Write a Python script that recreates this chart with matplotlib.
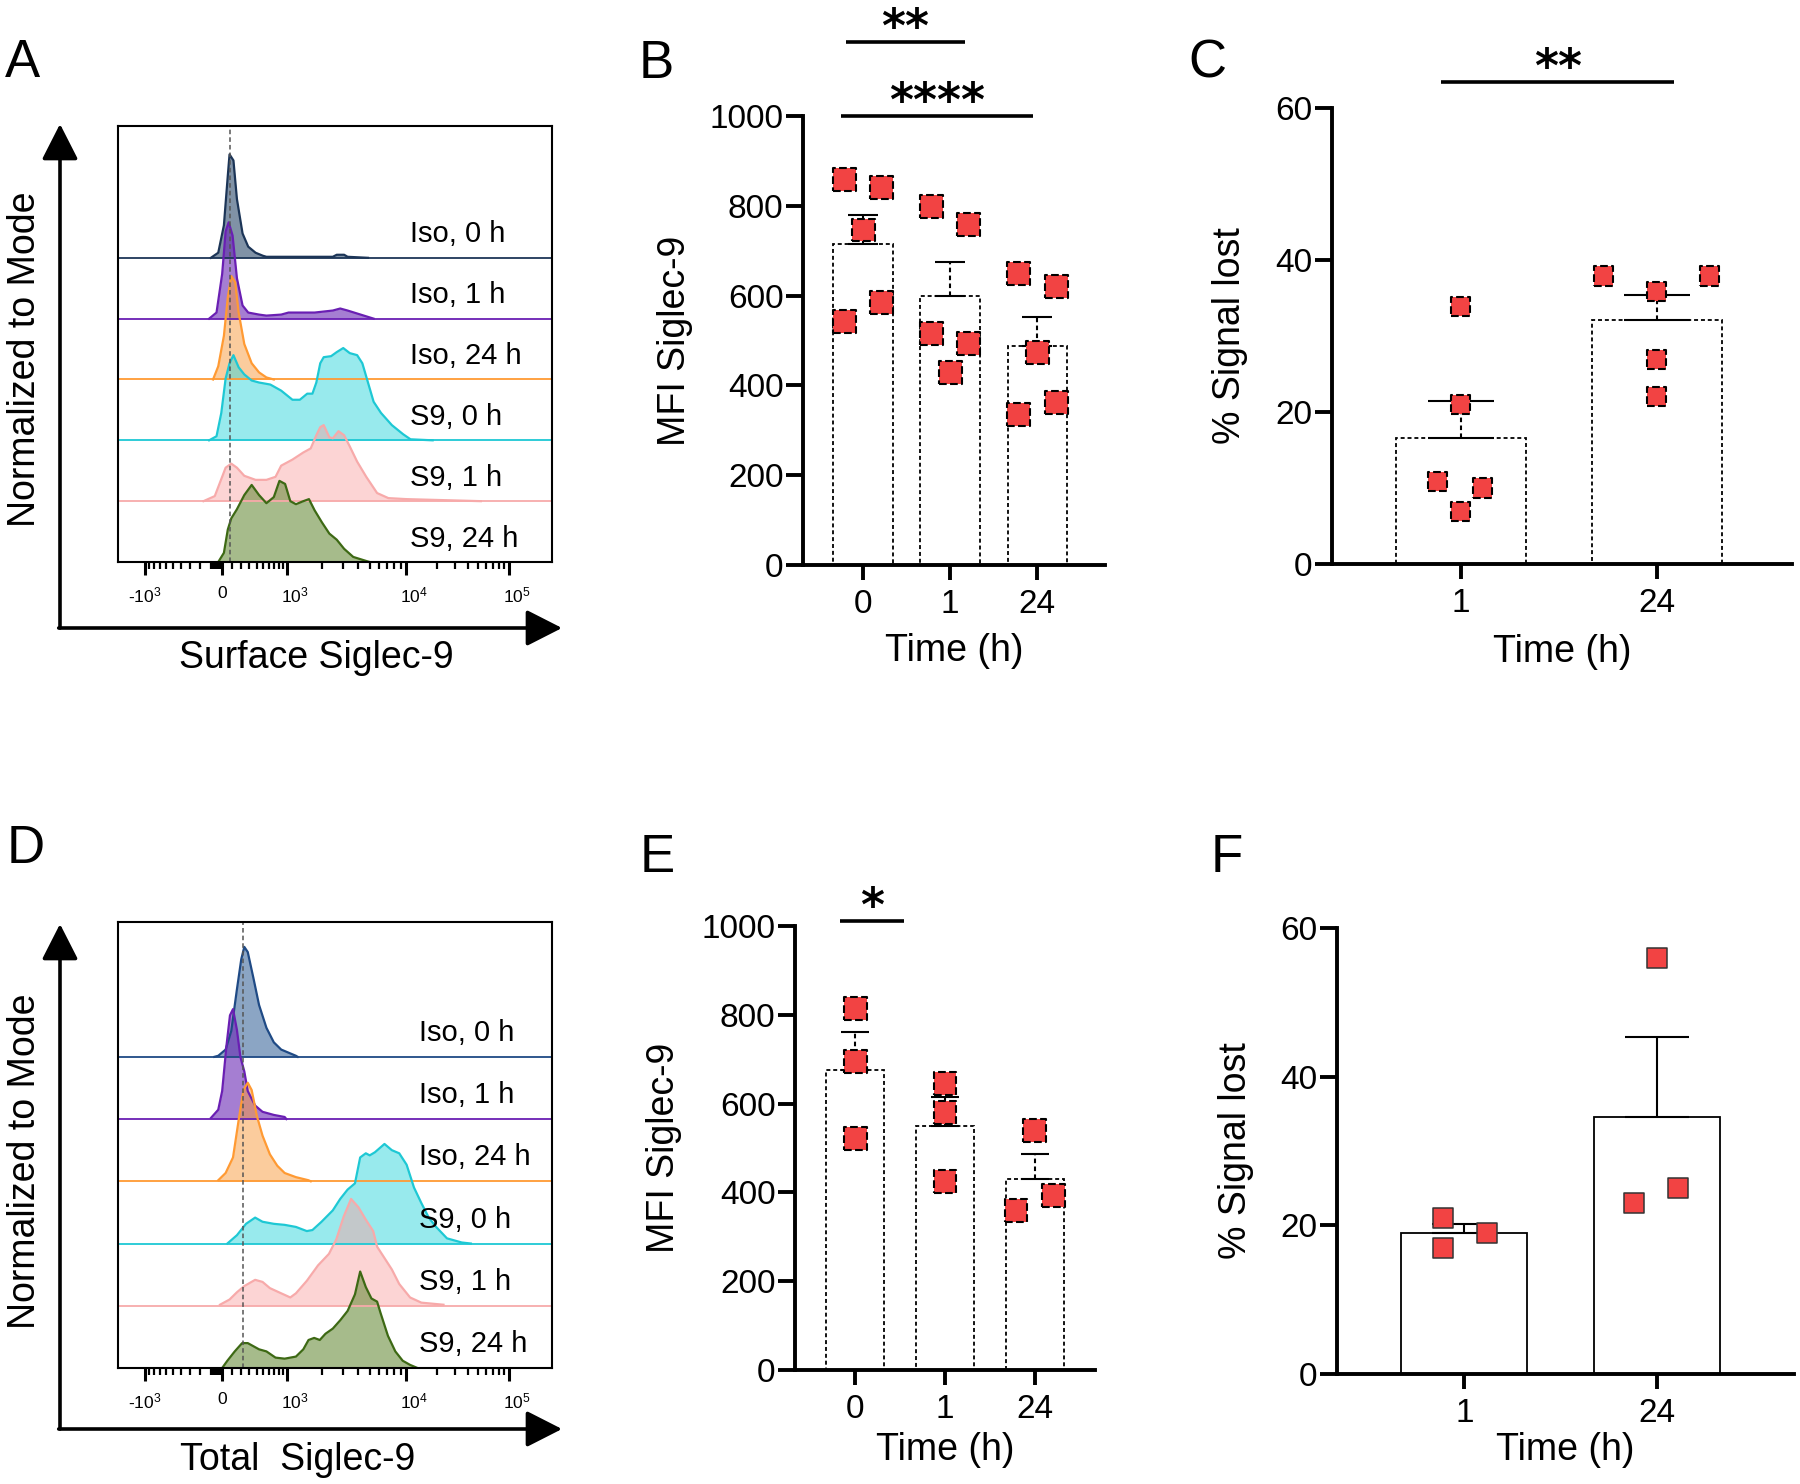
import numpy as np
import matplotlib.pyplot as plt
from matplotlib.transforms import ScaledTranslation

plt.rcParams['font.family'] = ['Liberation Sans', 'DejaVu Sans']
plt.rcParams['mathtext.fontset'] = 'custom'
plt.rcParams['mathtext.rm'] = 'Liberation Sans'
plt.rcParams['mathtext.default'] = 'regular'

W, H = 1800, 1484

# ---------------- flow histograms (x: display channel 0-1000, y: % of mode) -------------
row_names = ['Iso, 0 h', 'Iso, 1 h', 'Iso, 24 h', 'S9, 0 h', 'S9, 1 h', 'S9, 24 h']

# panel A, surface Siglec-9
a_iso0_ch = [214, 231, 244, 253, 257, 266, 274, 287, 300, 317, 334, 342, 495, 504, 521, 529, 576]
a_iso0_h = [0, 5, 32, 81, 102, 96, 58, 24, 11, 5, 2, 1, 1, 3, 3, 1, 0]
a_iso1_ch = [210, 227, 240, 248, 255, 264, 274, 287, 300, 325, 342, 376, 393, 453, 495, 512, 529, 559, 589]
a_iso1_h = [0, 6, 44, 86, 95, 82, 40, 13, 6, 4, 3, 4, 6, 6, 8, 10, 8, 4, 0]
a_iso24_ch = [219, 231, 244, 253, 261, 270, 278, 291, 308, 325, 342, 359]
a_iso24_h = [0, 13, 43, 81, 102, 96, 66, 35, 16, 7, 2, 0]
a_s90_ch = [210, 227, 238, 248, 257, 266, 278, 291, 308, 325, 351, 376, 402, 419, 436, 448, 457, 466,
            474, 491, 504, 519, 534, 551, 563, 576, 589, 606, 631, 657, 674, 725]
a_s90_h = [0, 4, 27, 61, 76, 84, 72, 65, 59, 57, 55, 49, 40, 40, 46, 46, 57, 76,
           82, 83, 87, 91, 86, 84, 76, 57, 38, 27, 15, 6, 1, 0]
a_s91_ch = [197, 223, 240, 248, 261, 274, 291, 317, 342, 363, 376, 402, 427, 444, 457, 466, 474, 487,
            495, 508, 521, 534, 551, 572, 597, 623, 665, 751, 836]
a_s91_h = [0, 5, 24, 33, 37, 33, 25, 21, 21, 24, 35, 41, 48, 52, 65, 73, 75, 63,
           62, 69, 65, 54, 39, 24, 8, 3, 2, 1, 0]
a_s924_ch = [231, 244, 253, 261, 274, 291, 308, 325, 342, 359, 372, 385, 397, 410, 427, 440, 453, 470,
             487, 504, 521, 542, 572, 580]
a_s924_h = [0, 9, 32, 43, 52, 66, 76, 66, 58, 64, 80, 77, 60, 57, 60, 62, 51, 39,
            28, 22, 13, 5, 1, 0]

# panel D, total Siglec-9
d_iso0_ch = [222, 231, 248, 261, 274, 284, 291, 299, 312, 325, 342, 359, 376, 393, 410, 414]
d_iso0_h = [0, 1, 7, 25, 65, 94, 106, 101, 76, 50, 28, 14, 7, 4, 1, 0]
d_iso1_ch = [214, 231, 240, 250, 258, 265, 274, 282, 291, 299, 316, 333, 359, 384, 388]
d_iso1_h = [1, 9, 27, 71, 100, 106, 86, 60, 46, 27, 13, 7, 4, 2, 0]
d_iso24_ch = [231, 248, 265, 278, 289, 299, 308, 320, 333, 350, 367, 384, 410, 439, 444]
d_iso24_h = [1, 8, 23, 59, 88, 95, 88, 63, 44, 26, 15, 8, 4, 1, 0]
d_s90_ch = [252, 274, 295, 316, 333, 359, 384, 410, 435, 448, 469, 495, 512, 529, 546, 558, 571, 580,
            592, 614, 631, 648, 665, 682, 699, 716, 733, 758, 792, 813]
d_s90_h = [0, 8, 19, 25, 21, 19, 18, 16, 12, 13, 21, 32, 43, 52, 58, 83, 87, 85,
           88, 96, 90, 87, 76, 54, 39, 25, 16, 5, 1, 0]
d_s91_ch = [235, 257, 274, 291, 316, 333, 350, 376, 397, 410, 435, 461, 486, 503, 520, 537, 554, 571,
            588, 597, 614, 631, 648, 673, 699, 750]
d_s91_h = [1, 6, 13, 19, 25, 23, 17, 12, 8, 12, 24, 39, 50, 64, 86, 103, 95, 83,
           72, 57, 46, 35, 21, 8, 3, 1]
d_s924_ch = [240, 252, 269, 286, 299, 325, 342, 363, 384, 410, 427, 439, 452, 465, 478, 495, 512, 529,
             546, 558, 571, 584, 597, 605, 622, 639, 656, 673, 690]
d_s924_h = [0, 7, 16, 24, 24, 18, 16, 10, 9, 11, 18, 27, 29, 27, 33, 38, 46, 55,
            71, 93, 78, 67, 64, 53, 31, 16, 7, 3, 0]

# biexponential axis anchors
tick_vals = [-1e3, 0, 1e3, 1e4, 1e5]
tick_chan = [62, 240, 389, 664, 900]
tick_text = ['-10$^{3}$', '0', '10$^{3}$', '10$^{4}$', '10$^{5}$']

# ---------------- bar charts ----------------
b_0h = [858, 840, 746, 543, 584]
b_1h = [799, 759, 516, 494, 429]
b_24h = [649, 620, 473, 336, 361]
c_1h = [33.9, 21.0, 10.9, 10.0, 6.9]
c_24h = [37.9, 37.9, 35.9, 26.9, 22.0]
e_0h = [814, 695, 521]
e_1h = [645, 580, 425]
e_24h = [539, 359, 394]
f_1h = [21.0, 16.9, 19.0]
f_24h = [55.9, 23.0, 25.0]
times3 = ['0', '1', '24']
times2 = ['1', '24']

# horizontal scatter of the squares inside each bar
b_jit = [[-0.21, 0.21, 0, -0.21, 0.21], [-0.21, 0.21, -0.21, 0.21, 0], [-0.21, 0.22, 0, -0.21, 0.22]]
c_jit = [[0, 0, -0.12, 0.11, 0], [-0.27, 0.27, 0, 0, 0]]
e_jit = [[0, 0, 0], [0, 0, 0], [0, -0.21, 0.21]]
f_jit = [[-0.11, -0.11, 0.12], [0, -0.12, 0.11]]

RED = '#f24343'

fig = plt.figure(figsize=(W / 100, H / 100), dpi=100)


def px_axes(l, t, r, b):
    return fig.add_axes([l / W, 1 - b / H, (r - l) / W, (b - t) / H])


# overlay for arrows
ov = fig.add_axes([0, 0, 1, 1], zorder=-1)
ov.set_xlim(0, W)
ov.set_ylim(H, 0)
ov.axis('off')


def to_chan(v):
    return np.interp(np.arcsinh(np.asarray(v, float) / 400), np.arcsinh(np.array(tick_vals) / 400), tick_chan)


def histo(box, curves, lines, fills, alphas, label_x, dash_x, xlabel, xlab_pos, ylab_pos, arr):
    ax = px_axes(*box)
    offsets = [300, 240, 180, 120, 60, 0]
    for (ch, h), off, lc, fc, al, name in zip(curves, offsets, lines, fills, alphas, row_names):
        ch = np.array(ch)
        y = off + np.array(h)
        ax.fill_between(ch, off, y, color=fc, alpha=al, lw=0)
        ax.plot(ch, y, color=lc, lw=1.6, solid_joinstyle='round')
        ax.axhline(off, color=lc, lw=1.3)
        ax.text(label_x, off + 23, name, fontsize=21, va='center', ha='left')
    ax.axvline(dash_x, color='#555555', lw=1.1, ls=(0, (3, 2)))
    ax.set_xlim(0, 1000)
    ax.set_ylim(0, 430)
    for s in ax.spines.values():
        s.set_linewidth(1.5)
    ax.set_yticks([])
    ax.set_xticks(tick_chan)
    ax.set_xticklabels(tick_text, fontsize=12.5)
    minor = list(np.arange(-900, 0, 100)) + list(np.arange(-90, 0, 10)) + list(np.arange(100, 1000, 100)) \
        + list(np.arange(2e3, 1e4, 1e3)) + list(np.arange(2e4, 1e5, 1e4))
    ax.set_xticks(to_chan(minor), minor=True)
    ax.tick_params(axis='x', which='major', length=9, width=2.2, pad=8)
    ax.tick_params(axis='x', which='minor', length=5, width=1.6)
    shift = ScaledTranslation(8 / 100, 0, fig.dpi_scale_trans)
    for lab in ax.get_xticklabels()[2:]:
        lab.set_transform(lab.get_transform() + shift)
    fig.text(xlab_pos[0] / W, 1 - xlab_pos[1] / H, xlabel, fontsize=27, ha='center', va='center')
    fig.text(ylab_pos[0] / W, 1 - ylab_pos[1] / H, 'Normalized to Mode', fontsize=27,
             ha='center', va='center', rotation=90)
    x0, ytop, x1, ybot = arr
    kw = dict(arrowstyle='-|>,head_length=0.55,head_width=0.28', lw=2.6, color='k', mutation_scale=40,
              shrinkA=0, shrinkB=0)
    ov.annotate('', xy=(x0, ytop), xytext=(x0, ybot), arrowprops=kw)
    ov.annotate('', xy=(x1, ybot), xytext=(x0 - 1.3, ybot), arrowprops=kw)
    return ax


fills = ['#2c4a6b', '#6a28b4', '#f99a3c', '#33d6dc', '#f9a0a0', '#6b8e3e']
alphas = [0.6, 0.6, 0.5, 0.5, 0.45, 0.6]
lines = ['#1c3557', '#6a1fb3', '#ff9a33', '#1ec8d4', '#f7aaaa', '#3d6914']

histo((118, 126, 552, 562),
      [(a_iso0_ch, a_iso0_h), (a_iso1_ch, a_iso1_h), (a_iso24_ch, a_iso24_h),
       (a_s90_ch, a_s90_h), (a_s91_ch, a_s91_h), (a_s924_ch, a_s924_h)],
      lines, fills, alphas, 673, 257, 'Surface Siglec-9', (316, 658), (25, 359), (60, 124, 562, 628))

histo((118, 922, 552, 1368),
      [(d_iso0_ch, d_iso0_h), (d_iso1_ch, d_iso1_h), (d_iso24_ch, d_iso24_h),
       (d_s90_ch, d_s90_h), (d_s91_ch, d_s91_h), (d_s924_ch, d_s924_h)],
      ['#1f4a85'] + lines[1:], ['#3e6a9e'] + fills[1:], alphas, 694, 288,
      'Total  Siglec-9', (298, 1460), (25, 1161), (60, 924, 562, 1429))


def bars(box, xlim, groups, jit, cats, width, ymax, ystep, ylabel, ylab_x, xlab_y, dashed, msize, sig):
    l, t, r, b = box
    ax = px_axes(l, t, r, b)
    n = len(groups)
    xlo, xhi = xlim
    ax.set_xlim(xlo, xhi)
    ax.set_ylim(0, ymax)
    spacing = (r - l) / (xhi - xlo)
    ls = (0, (2.2, 1.6)) if dashed else '-'
    cap = width * spacing / 4 * 0.72
    for i, (vals, jj) in enumerate(zip(groups, jit)):
        vals = np.array(vals, float)
        m = vals.mean()
        s = vals.std(ddof=1) / np.sqrt(len(vals))
        ax.bar(i, m, width, color='white', edgecolor='k', lw=1.3, ls=ls, zorder=1)
        eb = ax.errorbar(i, m, yerr=[[0], [s]], fmt='none', ecolor='k', elinewidth=1.5,
                         capsize=cap, capthick=1.5, zorder=2)
        if dashed:
            eb[2][0].set_linestyle(ls)
            for c in eb[1]:
                c.set_linestyle(ls)
        ax.scatter(i + np.array(jj), vals, s=msize, marker='s', color=RED,
                   edgecolors='k' if dashed else '#333333', linewidths=1.5 if dashed else 1.1,
                   linestyles='--' if dashed else '-', zorder=3)
    for sp in ['top', 'right']:
        ax.spines[sp].set_visible(False)
    for sp in ['left', 'bottom']:
        ax.spines[sp].set_linewidth(2.8)
    ax.set_yticks(np.arange(0, ymax + 1, ystep))
    ax.set_xticks(range(n))
    ax.set_xticklabels(cats)
    ax.tick_params(axis='both', labelsize=24, width=2.8, color='k')
    ax.tick_params(axis='y', length=12, pad=2)
    ax.tick_params(axis='x', length=11, pad=6)
    ax.set_ylabel(ylabel, fontsize=27)
    ax.yaxis.set_label_coords((ylab_x - l) / (r - l), 0.5)
    ax.yaxis.label.set_va('center')
    ax.set_xlabel('Time (h)', fontsize=27)
    ax.xaxis.set_label_coords(0.5, -(xlab_y - b) / (b - t))
    ax.xaxis.label.set_va('center')
    for x0, x1, y, stars in sig:
        ax.plot([x0, x1], [y, y], color='k', lw=2.6, clip_on=False, solid_capstyle='butt')
        ax.text((x0 + x1) / 2, y, stars, ha='center', va='baseline', fontsize=33,
                fontweight='bold', family='DejaVu Sans', clip_on=False)
    return ax


bars((803, 116, 1105, 565), (-0.69, 2.78), [b_0h, b_1h, b_24h], b_jit, times3, 0.68, 1000, 200,
     'MFI Siglec-9', 675, 651, True, 272, [(-0.2, 1.17, 1165, '**'), (-0.25, 1.95, 1000, '****')])
bars((1332, 108, 1792, 564), (-0.657, 1.69), [c_1h, c_24h], c_jit, times2, 0.665, 60, 20,
     '% Signal lost', 1230, 652, True, 190, [(-0.1, 1.09, 63.4, '**')])
bars((795, 926, 1095, 1370), (-0.67, 2.67), [e_0h, e_1h, e_24h], e_jit, times3, 0.64, 1000, 200,
     'MFI Siglec-9', 664, 1450, True, 272, [(-0.17, 0.54, 1012, '*')])
bars((1337, 928, 1794, 1374), (-0.66, 1.71), [f_1h, f_24h], f_jit, times2, 0.655, 60, 20,
     '% Signal lost', 1236, 1450, False, 190, [])

for lab, x, y in [('A', 5, 77), ('B', 639, 78), ('C', 1188, 78),
                  ('D', 7, 863), ('E', 640, 872), ('F', 1211, 872)]:
    fig.text(x / W, 1 - y / H, lab, fontsize=38, ha='left', va='baseline')

fig.savefig('out.png', dpi=100)
